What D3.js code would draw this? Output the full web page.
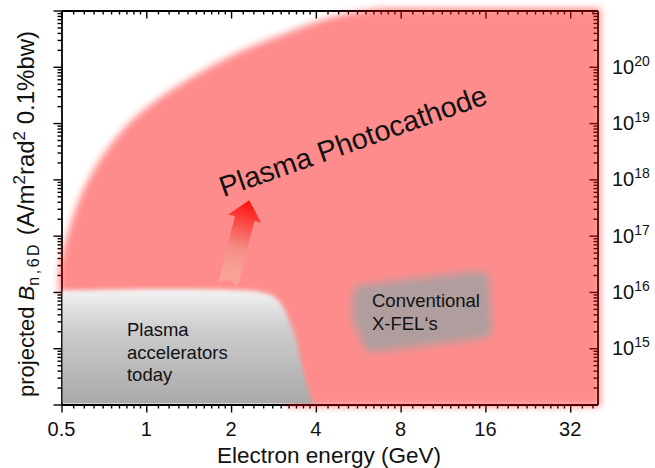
<!DOCTYPE html>
<html>
<head>
<meta charset="utf-8">
<script src="https://cdn.jsdelivr.net/npm/d3@7/dist/d3.min.js"></script>
<style>
  body { margin: 0; background: #fff; }
  text { font-family: "Liberation Sans", Arial, Helvetica, sans-serif; fill: #111; }
</style>
</head>
<body>
<svg id="chart" width="655" height="468"></svg>
<script>
// axis ticks
var energyTicks = [0.5, 1, 2, 4, 8, 16, 32];
var brightnessExps = [15, 16, 17, 18, 19, 20];

// region outlines, [energy in GeV, log10 brightness]
var photocathodeEdge = [[0.49, 16.4], [0.516, 16.9], [0.62, 17.98], [0.89, 19.05], [1.8, 20.08], [3.2, 20.62], [4.7, 20.9], [6.8, 21.04]];
var photocathodeBack = [[41, 21.04], [41, 13.96], [3.2, 13.96], [3.0, 14.3], [2.2, 15.5], [0.7, 15.8], [0.49, 16.0]];
var acceleratorEdge = [[0.48, 16.02], [1.03, 16.05], [1.98, 16.04], [2.53, 16.0], [2.91, 15.88], [3.32, 15.32], [3.6, 14.61], [3.93, 13.95]];
var acceleratorBack = [[0.48, 13.95]];
var xfelOutline = [[5.78, 15.98], [15.42, 16.23], [15.8, 15.32], [6.33, 15.07], [5.74, 15.54]];

// annotations
var arrowTail = [1.95, 16.12], arrowTip = [2.32, 17.63];
var photocathodeText = "Plasma Photocathode", photocathodeAt = [1.88, 17.68];
var acceleratorText = ["Plasma", "accelerators", "today"], acceleratorAt = [0.854, 15.22];
var xfelText = ["Conventional", "X-FEL\u2018s"], xfelAt = [6.33, 15.73];

var margin = {top: 10.5, right: 57.5, bottom: 63.5, left: 61.5};
var width = 655 - margin.left - margin.right,
    height = 468 - margin.top - margin.bottom;

var svg = d3.select("#chart");
var defs = svg.append("defs");
var g = svg.append("g")
    .attr("transform", "translate(" + margin.left + "," + margin.top + ")");

var x = d3.scaleLog().base(2).domain([0.5, 40]).range([0, width]);
var y = d3.scaleLog().domain([1e14, 1e21]).range([height, 0]);
function ly(v) { return y(Math.pow(10, v)); }
function pt(d) { return [x(d[0]), ly(d[1])]; }

// minor ticks
var minorX = [];
energyTicks.forEach(function (m) {
  for (var k = 1; k < 10; k++) { var v = m * (1 + k / 10); if (v < 40) minorX.push(v); }
});
var majorY = [], minorY = [];
for (var n = 14; n <= 21; n++) {
  majorY.push(Math.pow(10, n));
  if (n < 21) for (var k = 2; k < 10; k++) minorY.push(k * Math.pow(10, n));
}

function styleAxis(sel, keepDomain) {
  sel.selectAll("line").attr("stroke", "#000").attr("stroke-width", 1.4);
  if (keepDomain) sel.select(".domain").attr("stroke", "#000").attr("stroke-width", 1.8);
  else sel.select(".domain").remove();
  sel.selectAll("text").remove();
}

// axes (drawn first, the red region sits on top of them)
var axes = g.append("g");
var bx = axes.append("g").attr("transform", "translate(0," + height + ")");
bx.append("g").call(d3.axisBottom(x).tickValues(energyTicks).tickSize(8).tickSizeOuter(0)).call(styleAxis, true);
bx.append("g").call(d3.axisBottom(x).tickValues(minorX).tickSize(4).tickSizeOuter(0)).call(styleAxis, false);
var tx = axes.append("g");
tx.append("g").call(d3.axisTop(x).tickValues(energyTicks).tickSize(-8).tickSizeOuter(0)).call(styleAxis, true);
tx.append("g").call(d3.axisTop(x).tickValues(minorX).tickSize(-4).tickSizeOuter(0)).call(styleAxis, false);
var lyx = axes.append("g");
lyx.append("g").call(d3.axisLeft(y).tickValues(majorY).tickSize(8).tickSizeOuter(0)).call(styleAxis, true);
lyx.append("g").call(d3.axisLeft(y).tickValues(minorY).tickSize(4).tickSizeOuter(0)).call(styleAxis, false);
var ry = axes.append("g").attr("transform", "translate(" + width + ",0)");
ry.append("g").call(d3.axisRight(y).tickValues(majorY).tickSize(-8).tickSizeOuter(0)).call(styleAxis, true);
ry.append("g").call(d3.axisRight(y).tickValues(minorY).tickSize(-4).tickSizeOuter(0)).call(styleAxis, false);

// filters
function blur(id, s) {
  defs.append("filter").attr("id", id)
      .attr("filterUnits", "userSpaceOnUse")
      .attr("x", -margin.left).attr("y", -margin.top).attr("width", 655).attr("height", 468)
    .append("feGaussianBlur").attr("stdDeviation", s);
}
blur("blurPink", 3.5);
blur("blurGray", 2);
blur("blurBox", 4);

defs.append("clipPath").attr("id", "plotClip")
  .append("rect").attr("x", 1).attr("y", 0).attr("width", width - 1).attr("height", height - 1);

var curve = d3.line().curve(d3.curveCatmullRom.alpha(0.5));
function regionPath(edge, back) {
  return curve(edge.map(pt)) + back.map(function (d) { return "L" + pt(d).join(","); }).join("") + "Z";
}

// plasma photocathode region
g.append("path")
    .attr("d", regionPath(photocathodeEdge, photocathodeBack))
    .attr("fill", "#ff0000")
    .attr("fill-opacity", 0.45)
    .attr("filter", "url(#blurPink)");

// plasma accelerators today
var grayGrad = defs.append("linearGradient").attr("id", "grayGrad")
    .attr("gradientUnits", "userSpaceOnUse")
    .attr("x1", 0).attr("x2", 0).attr("y1", ly(16.05)).attr("y2", ly(14));
grayGrad.append("stop").attr("offset", 0).attr("stop-color", "#f4f4f4");
grayGrad.append("stop").attr("offset", 0.35).attr("stop-color", "#cdcdcd");
grayGrad.append("stop").attr("offset", 1).attr("stop-color", "#a9a9a9");

g.append("g").attr("clip-path", "url(#plotClip)")
  .append("path")
    .attr("d", regionPath(acceleratorEdge, acceleratorBack))
    .attr("fill", "url(#grayGrad)")
    .attr("filter", "url(#blurGray)");

// conventional X-FELs (rounded by a thick round-joined stroke)
g.append("path")
    .attr("d", d3.line().curve(d3.curveLinearClosed)(xfelOutline.map(pt)))
    .attr("fill", "#b09e9f")
    .attr("stroke", "#b09e9f")
    .attr("stroke-width", 16)
    .attr("stroke-linejoin", "round")
    .attr("filter", "url(#blurBox)");

// arrow
var a0 = pt(arrowTail), a1 = pt(arrowTip);
var len = Math.hypot(a1[0] - a0[0], a1[1] - a0[1]);
var ang = Math.atan2(a1[0] - a0[0], a0[1] - a1[1]) * 180 / Math.PI;
var shaft = 10, head = 17, headLen = 19, notch = 6;
var arrowGrad = defs.append("linearGradient").attr("id", "arrowGrad")
    .attr("gradientUnits", "userSpaceOnUse")
    .attr("x1", 0).attr("x2", 0).attr("y1", 0).attr("y2", -len);
arrowGrad.append("stop").attr("offset", 0).attr("stop-color", "#f6c2a6").attr("stop-opacity", 0.35);
arrowGrad.append("stop").attr("offset", 0.45).attr("stop-color", "#f48a82");
arrowGrad.append("stop").attr("offset", 1).attr("stop-color", "#ff0d0d");
var arrowPts = [[-shaft, 0], [-shaft, -(len - headLen)], [-head, -(len - headLen)], [0, -len],
                [head, -(len - headLen)], [shaft, -(len - headLen)], [shaft, 0], [0, -notch]];
g.append("path")
    .attr("transform", "translate(" + a0[0] + "," + a0[1] + ") rotate(" + ang + ")")
    .attr("d", d3.line()(arrowPts) + "Z")
    .attr("fill", "url(#arrowGrad)");

// annotation text
var pp = pt(photocathodeAt);
g.append("text")
    .attr("transform", "translate(" + pp[0] + "," + pp[1] + ") rotate(-19.5)")
    .style("font-size", "28.8px")
    .text(photocathodeText);

function multiline(lines, at) {
  var p = pt(at);
  var t = g.append("text").attr("x", p[0]).attr("y", p[1]).style("font-size", "18.5px");
  t.selectAll("tspan").data(lines).enter().append("tspan")
      .attr("x", p[0])
      .attr("dy", function (d, i) { return i ? 22.8 : 0; })
      .text(function (d) { return d; });
}
multiline(acceleratorText, acceleratorAt);
multiline(xfelText, xfelAt);

// tick labels
g.selectAll(".xlab").data(energyTicks).enter().append("text")
    .attr("class", "xlab")
    .attr("x", function (d) { return x(d); })
    .attr("y", height + 31)
    .attr("text-anchor", "middle")
    .style("font-size", "20px")
    .text(function (d) { return d; });

var ylab = g.selectAll(".ylab").data(brightnessExps).enter().append("text")
    .attr("class", "ylab")
    .attr("x", width + 14.5)
    .attr("y", function (d) { return ly(d) + 7; })
    .style("font-size", "20px");
ylab.append("tspan").text("10");
ylab.append("tspan").attr("dy", -8).style("font-size", "14px").text(function (d) { return d; });

// axis titles
svg.append("text")
    .attr("x", 329)
    .attr("y", 463)
    .attr("text-anchor", "middle")
    .style("font-size", "22.5px")
    .text("Electron energy (GeV)");

var yt = svg.append("text")
    .attr("transform", "translate(34,397) rotate(-90)")
    .style("font-size", "22px");
yt.append("tspan").text("projected ");
yt.append("tspan").style("font-style", "italic").text("B");
yt.append("tspan").attr("dy", 5).style("font-size", "16px").style("letter-spacing", "2.5px").text("n,6D");
yt.append("tspan").attr("dy", -5).style("font-size", "24px").text(" (A/m");
yt.append("tspan").attr("dy", -9).style("font-size", "17px").text("2");
yt.append("tspan").attr("dy", 9).style("font-size", "24px").text("rad");
yt.append("tspan").attr("dy", -9).style("font-size", "17px").text("2");
yt.append("tspan").attr("dy", 9).style("font-size", "24px").text(" 0.1%bw)");
</script>
</body>
</html>
